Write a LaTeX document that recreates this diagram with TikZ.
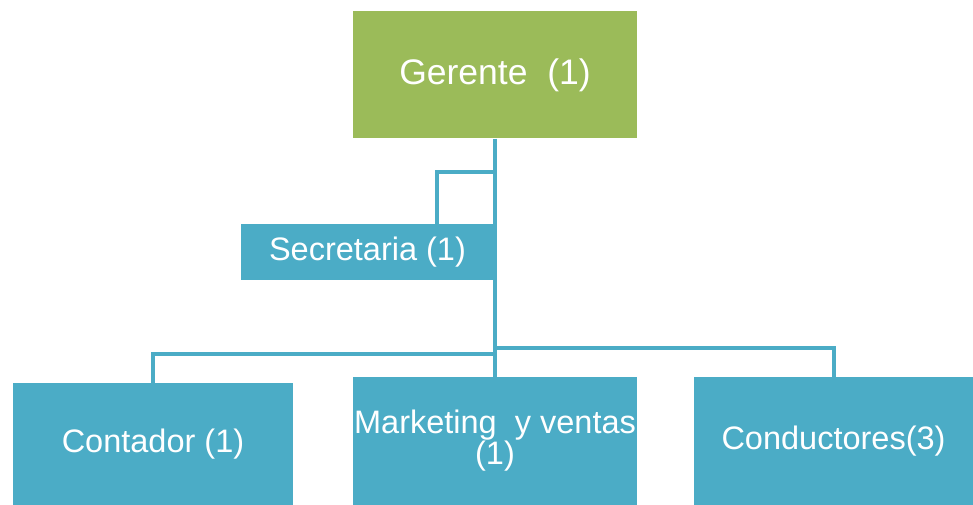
\documentclass[tikz,border=0pt]{standalone}
\usepackage{fontspec}
\setmainfont{Liberation Sans}
\usepackage{xcolor}
\usetikzlibrary{positioning}
\definecolor{boxgreen}{HTML}{9BBB59}
\definecolor{boxblue}{HTML}{4BACC6}
\tikzset{OrgBox/.style={fill=boxblue,text=white,inner sep=0pt,align=center,font=\fontsize{32.5}{31}\selectfont},
	OrgLine/.style={draw=boxblue,line width=4pt}}

\begin{document}
\begin{tikzpicture}[x=1pt,y=-1pt]
	\useasboundingbox (0,0) rectangle (973,505);
	\node[OrgBox,fill=boxgreen,minimum width=284pt,minimum height=127pt,font=\fontsize{35.5}{36}\selectfont] (G) at (495,75) {Gerente\ \ (1)};
	\node[OrgBox,minimum width=253pt,minimum height=56pt] (S) at (367.5,252) {Secretaria (1)};
	\node[OrgBox,minimum width=280pt,minimum height=122pt] (C) at (153,444) {Contador\ (1)};
	\node[OrgBox,minimum width=284pt,minimum height=128pt] (M) at (495,441) {Marketing\ \ y ventas\\(1)};
	\node[OrgBox,minimum width=279pt,minimum height=128pt] (D) at (833.5,441) {Conductores(3)};
	\coordinate (jS) at (495,172);
	\coordinate (jC) at (495,354);
	\coordinate (jD) at (495,348);
	%
	\draw[OrgLine] (G.south) -- (M.north);
	\draw[OrgLine] (jS) -| ([xshift=-57pt]S.north east);
	\draw[OrgLine] (jC) -| (C.north);
	\draw[OrgLine] (jD) -| (D.north);
\end{tikzpicture}
\end{document}
